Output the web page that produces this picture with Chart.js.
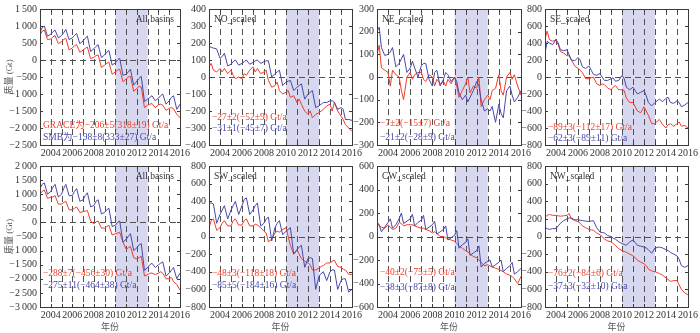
<!DOCTYPE html>
<html>
<head>
<meta charset="utf-8">
<script src="https://cdn.jsdelivr.net/npm/chart.js@4.4.1/dist/chart.umd.min.js"></script>
<style>
  body { margin: 0; background: #fff; }
  #wrap { position: relative; width: 700px; height: 333px; overflow: hidden; }
  #wrap canvas { position: absolute; left: 0; top: 0; }
</style>
</head>
<body>
<div id="wrap"></div>
<script>
// sample times (decimal years)
const years = [2003,2003.2,2003.4,2003.7, 2004,2004.2,2004.4,2004.7, 2005,2005.2,2005.4,2005.7,
  2006,2006.2,2006.4,2006.7, 2007,2007.2,2007.4,2007.7, 2008,2008.2,2008.4,2008.7,
  2009,2009.2,2009.4,2009.7, 2010,2010.2,2010.4,2010.7, 2011,2011.2,2011.4,2011.7,
  2012,2012.2,2012.4,2012.7, 2013,2013.2,2013.4,2013.7, 2014,2014.2,2014.4,2014.7,
  2015,2015.2,2015.4,2015.7, 2016];

// top row
const allGraceA = [720,850,880,600, 620,680,720,480, 540,600,640,300, 350,420,450,230, 290,340,380,40,
  80,130,150,-220, -150,-100,-60,-420, -350,-300,-270,-640, -560,-500,-480,-920,
  -830,-780,-790,-1400, -1330,-1300,-1280,-1400, -1320,-1300,-1330,-1480, -1420,-1400,-1430,-1600, -1700];
const allSmbA = [820,950,1000,700, 760,830,880,650, 720,800,900,600, 650,720,780,480, 560,640,700,250,
  330,400,450,70, 150,230,280,-150, -80,0,50,-450, -420,-350,-270,-740,
  -620,-540,-480,-1220, -1150,-1100,-1050,-1200, -1120,-1050,-1000,-1300, -1200,-1100,-1050,-1450, -1300];
const noGrace = [60,80,40,30, 50,30,50,20, 40,10,-10,0, -10,20,10,40, 60,30,50,20,
  30,40,-20,-60, -50,-30,-80,-100, -90,-80,-120,-110, -150,-130,-160,-200,
  -220,-200,-240,-220, -210,-200,-190,-170, -160,-200,-150,-200, -230,-250,-280,-300, -320];
const noSmb = [180,175,170,165, 110,120,140,65, 75,90,100,70, 80,90,100,75, 85,95,100,80,
  90,95,95,0, 20,30,40,-50, -30,-25,-20,-80, -60,-50,-40,-130,
  -100,-90,-80,-180, -170,-160,-150,-150, -140,-140,-150,-190, -180,-190,-250,-250, -255];
const neGrace = [100,140,40,30, 20,-40,30,10, 0,-60,-100,0, 20,-10,10,20, 20,-10,-20,10,
  0,-40,-10,-30, -20,-40,-10,-30, 0,-40,-90,-60, -30,0,-70,-40,
  -50,0,-130,-100, -80,-100,-60,-50, 10,-60,-80,0, 20,-10,10,-40, -80];
const neSmb = [200,220,130,95, 100,110,130,45, 60,80,100,20, 40,70,40,0, 50,60,60,-10,
  -40,20,30,-40, -10,20,10,-20, 0,-20,-70,-100, -80,-110,-90,-60,
  -20,-40,-100,-150, -140,-150,-130,-200, -120,-160,-180,-60, -40,-80,-110,-90, -60];
const seGrace = [450,540,440,420, 440,380,300,280, 250,250,200,130, 100,80,50,-20, -20,-10,0,-80,
  -100,-80,-90,-130, -150,-120,-100,-150, -150,-160,-250,-300, -300,-350,-400,-420,
  -350,-400,-450,-550, -550,-520,-500,-560, -600,-560,-550,-580, -550,-530,-580,-570, -600];
const seSmb = [280,420,400,380, 440,400,320,310, 320,260,200,190, 230,200,120,100, 130,80,30,20,
  40,0,-40,-40, -20,-10,-50,-40, 20,-20,-120,-150, -120,-160,-200,-180,
  -160,-220,-300,-340, -300,-280,-260,-290, -250,-240,-300,-310, -280,-300,-350,-330, -300];

// bottom row
const allGraceB = [1000,1100,1150,850, 900,900,950,650, 650,700,750,450, 450,500,550,350, 380,400,420,50,
  -50,20,50,-200, -200,-150,-100,-450, -400,-380,-350,-700, -950,-900,-850,-1250,
  -1300,-1250,-1200,-1900, -1850,-1800,-1800,-1850, -1800,-1750,-1800,-2000, -2000,-1950,-2100,-2200, -2400];
const allSmbB = [1200,1350,1400,1000, 1100,1250,1350,900, 1000,1200,1350,950, 950,1100,1200,750,
  800,950,1050,550, 600,750,800,300, 350,450,500,-150, -100,0,50,-700, -600,-500,-400,-1000,
  -900,-800,-750,-1700, -1600,-1500,-1450,-1600, -1500,-1450,-1400,-1900, -1800,-1700,-1600,-2000, -1800];
const swGrace = [100,180,200,70, 100,150,180,120, 120,180,200,130, 130,180,200,120, 120,140,130,100,
  60,40,-60,-30, 40,60,50,80, 100,0,-100,-200, -150,-200,-250,-280,
  -300,-320,-380,-380, -360,-340,-330,-300, -300,-280,-270,-340, -350,-370,-380,-430, -430];
const swSmb = [380,380,370,150, 250,300,350,200, 300,350,400,250, 350,420,440,250, 300,350,380,120,
  150,200,220,-50, 100,150,180,20, 60,80,100,-200, -150,-120,-100,-350,
  -250,-240,-250,-600, -450,-420,-400,-500, -400,-380,-380,-600, -500,-480,-480,-630, -600];
const cwGrace = [120,90,80,70, 100,80,60,70, 120,110,90,100, 100,100,90,80, 70,70,60,50,
  30,40,30,0, 0,-10,-20,-30, -40,-60,-80,-100, -120,-130,-150,-170,
  -180,-200,-220,-250, -240,-250,-260,-270, -280,-290,-300,-320, -330,-340,-360,-400, -340];
const cwSmb = [120,100,40,80, 120,150,70,100, 150,200,110,130, 150,190,90,120, 140,180,60,80,
  100,130,20,40, 60,90,-30,-10, 10,50,-100,-70, -50,-20,-160,-140,
  -120,-80,-260,-230, -210,-200,-260,-240, -220,-200,-300,-270, -250,-220,-320,-300, -270];
const nwGrace = [220,240,250,240, 240,235,230,235, 240,260,200,180, 170,150,120,100, 80,75,70,40,
  20,0,-30,-50, -60,-80,-100,-140, -160,-170,-180,-200, -220,-240,-270,-290,
  -310,-330,-370,-390, -400,-410,-420,-440, -470,-490,-510,-500, -500,-550,-600,-640, -660];
const nwSmb = [100,90,80,90, 90,120,150,180, 200,210,210,190, 190,185,180,175, 170,175,180,100,
  50,45,40,10, 0,-20,-30,-60, -80,-90,-100,-60, -40,-70,-100,-110,
  -120,-130,-150,-190, -130,-125,-120,-130, -150,-160,-180,-200, -220,-260,-330,-350, -330];

const shadeFrom = 2010, shadeTo = 2013;

const panels = [
  { row: 0, col: 0, red: allGraceA, blue: allSmbA, min: -2500, max: 1500, step: 500, name: 'All basins', right: true,
    redText: 'GRACE为−206±5(318±19) Gt/a', blueText: 'SMB为−198±8(333±27) Gt/a', ry: 20, by: 8 },
  { row: 0, col: 1, red: noGrace, blue: noSmb, min: -400, max: 400, step: 100, name: 'NO_scaled',
    redText: '−27±2(−52±9) Gt/a', blueText: '−31±1(−45±7) Gt/a', ry: 28, by: 17 },
  { row: 0, col: 2, red: neGrace, blue: neSmb, min: -300, max: 300, step: 100, name: 'NE_scaled',
    redText: '−7±2(−15±7) Gt/a', blueText: '−21±2(−28±9) Gt/a', ry: 22, by: 8 },
  { row: 0, col: 3, red: seGrace, blue: seSmb, min: -800, max: 800, step: 200, name: 'SE_scaled',
    redText: '−89±3(−112±17) Gt/a', blueText: '−62±3(−89±11) Gt/a', ry: 18, by: 7 },
  { row: 1, col: 0, red: allGraceB, blue: allSmbB, min: -3000, max: 2000, step: 500, name: 'All basins', right: true,
    redText: '−288±7(−456±30) Gt/a', blueText: '−275±11(−464±38) Gt/a', ry: 34, by: 22 },
  { row: 1, col: 1, red: swGrace, blue: swSmb, min: -800, max: 800, step: 200, name: 'SW_scaled',
    redText: '−48±3(−118±18) Gt/a', blueText: '−85±5(−184±16) Gt/a', ry: 34, by: 22 },
  { row: 1, col: 2, red: cwGrace, blue: cwSmb, min: -600, max: 600, step: 200, name: 'CW_scaled',
    redText: '−40±2(−75±5) Gt/a', blueText: '−38±3(−87±8) Gt/a', ry: 35, by: 20 },
  { row: 1, col: 3, red: nwGrace, blue: nwSmb, min: -800, max: 800, step: 200, name: 'NW_scaled',
    redText: '−76±2(−84±6) Gt/a', blueText: '−37±3(−32±10) Gt/a', ry: 34, by: 21 }
];

// plot-area boxes
const cols = [{ L: 40, R: 180 }, { L: 209, R: 352 }, { L: 377, R: 521 }, { L: 545, R: 691 }];
const rows = [{ T: 5, B: 145 }, { T: 166, B: 307 }];

const RED = 'rgb(238,62,42)';
const BLUE = 'rgb(72,72,170)';
const serif = '"Liberation Serif", "Noto Sans CJK SC", serif';

function fmtTick(v) {
  const s = Math.abs(v).toString().replace(/\B(?=(\d{3})+(?!\d))/g, '\u2009');
  return (v < 0 ? '−' : '') + s;
}

const decor = {
  id: 'decor',
  beforeDatasetsDraw(chart, args, o) {
    const { ctx, chartArea: a, scales: { x, y } } = chart;
    ctx.save();
    const s0 = x.getPixelForValue(shadeFrom), s1 = x.getPixelForValue(shadeTo);
    ctx.fillStyle = 'rgba(172,172,224,0.48)';
    ctx.fillRect(s0, a.top, s1 - s0, a.bottom - a.top);
    ctx.strokeStyle = '#505050';
    ctx.lineWidth = 1;
    ctx.setLineDash([6, 4]);
    for (let yr = Math.ceil(x.min) + 1; yr < x.max; yr++) {
      const px = Math.round(x.getPixelForValue(yr)) + 0.5;
      ctx.beginPath(); ctx.moveTo(px, a.top); ctx.lineTo(px, a.bottom); ctx.stroke();
    }
    const py = Math.round(y.getPixelForValue(0)) + 0.5;
    ctx.beginPath(); ctx.moveTo(a.left, py); ctx.lineTo(a.right, py); ctx.stroke();
    ctx.restore();
  },
  afterDatasetsDraw(chart, args, o) {
    const { ctx, chartArea: a, scales: { x, y } } = chart;
    ctx.save();
    ctx.strokeStyle = '#3a3a3a';
    ctx.lineWidth = 1;
    ctx.strokeRect(Math.round(a.left) + 0.5, Math.round(a.top) + 0.5,
      Math.round(a.right - a.left), Math.round(a.bottom - a.top));
    ctx.beginPath();
    for (let yr = Math.ceil(x.min); yr <= x.max; yr++) {
      const px = Math.round(x.getPixelForValue(yr)) + 0.5;
      ctx.moveTo(px, a.bottom); ctx.lineTo(px, a.bottom - 3);
      ctx.moveTo(px, a.top); ctx.lineTo(px, a.top + 3);
    }
    y.ticks.forEach(t => {
      const py = Math.round(y.getPixelForValue(t.value)) + 0.5;
      ctx.moveTo(a.left, py); ctx.lineTo(a.left + 3, py);
      ctx.moveTo(a.right, py); ctx.lineTo(a.right - 3, py);
    });
    ctx.stroke();

    ctx.font = '9.5px ' + serif;
    ctx.textBaseline = 'middle';
    ctx.fillStyle = '#333';
    if (o.right) {
      ctx.textAlign = 'right';
      ctx.fillText(o.name, a.right - 6, a.top + 10);
    } else {
      ctx.textAlign = 'left';
      ctx.fillText(o.name, a.left + 5, a.top + 10);
    }
    ctx.textAlign = 'left';
    ctx.fillStyle = RED;
    ctx.fillText(o.redText, a.left + 3, a.bottom - o.ry);
    ctx.fillStyle = BLUE;
    ctx.fillText(o.blueText, a.left + 3, a.bottom - o.by);
    ctx.restore();
  }
};

const wrap = document.getElementById('wrap');
panels.forEach(p => {
  const c = cols[p.col], r = rows[p.row];
  const yw = p.col === 0 ? 40 : 34;
  const xh = p.row === 0 ? 14 : 26;
  const cv = document.createElement('canvas');
  cv.width = 700; cv.height = 333;
  wrap.appendChild(cv);
  new Chart(cv, {
    type: 'line',
    data: {
      datasets: [
        { label: 'SMB', data: years.map((t, i) => ({ x: t, y: p.blue[i] })),
          borderColor: BLUE, borderWidth: 1, pointRadius: 0, tension: 0 },
        { label: 'GRACE', data: years.map((t, i) => ({ x: t, y: p.red[i] })),
          borderColor: RED, borderWidth: 1, pointRadius: 0, tension: 0 }
      ]
    },
    options: {
      responsive: false,
      animation: false,
      events: [],
      layout: { padding: { left: c.L - yw, right: 700 - c.R, top: r.T, bottom: 333 - r.B - xh } },
      plugins: {
        legend: { display: false },
        tooltip: { enabled: false },
        decor: { name: p.name, right: !!p.right, redText: p.redText, blueText: p.blueText, ry: p.ry, by: p.by }
      },
      scales: {
        x: {
          type: 'linear', min: 2003, max: 2016,
          grid: { display: false, drawTicks: false },
          border: { display: false },
          afterFit: s => { s.height = xh; },
          ticks: {
            stepSize: 1, autoSkip: false, maxRotation: 0, padding: 2,
            color: '#333', font: { family: serif, size: 10 },
            callback: v => (v % 2 === 0 ? String(v) : '')
          },
          title: { display: p.row === 1, text: '年份', color: '#555',
            font: { family: serif, size: 9 }, padding: { top: 0, bottom: 0 } }
        },
        y: {
          min: p.min, max: p.max,
          grid: { display: false, drawTicks: false },
          border: { display: false },
          afterFit: s => { s.width = yw; },
          ticks: {
            stepSize: p.step, padding: 3, autoSkip: false,
            color: '#333', font: { family: serif, size: 10 },
            callback: v => fmtTick(v)
          },
          title: { display: p.col === 0, text: '质量 (Gt)', color: '#555',
            font: { family: serif, size: 9 }, padding: { top: 4, bottom: 0 } }
        }
      }
    },
    plugins: [decor]
  });
});
</script>
</body>
</html>
